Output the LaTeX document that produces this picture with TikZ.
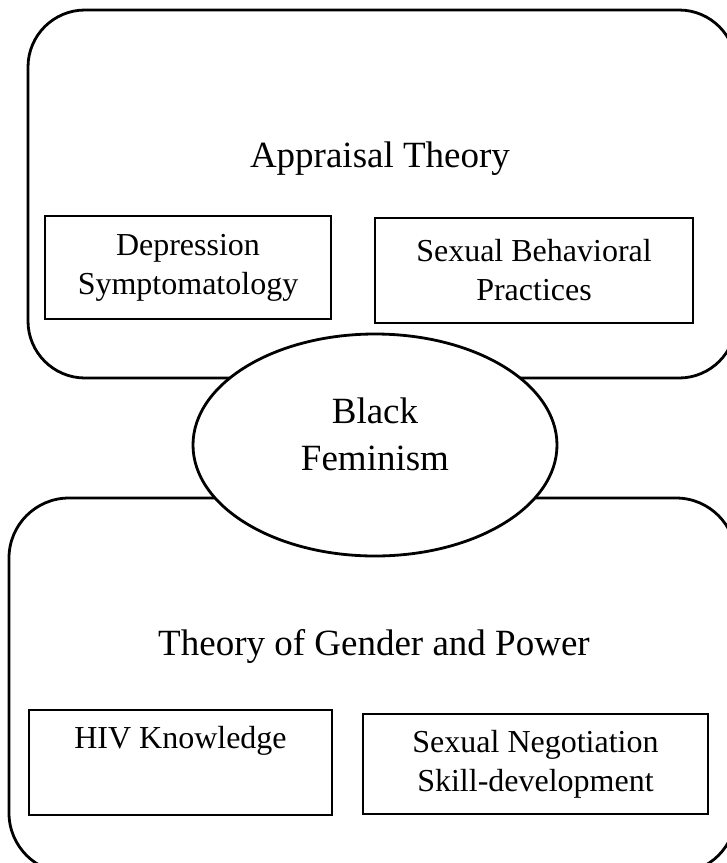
\documentclass[tikz,border=0pt]{standalone}
\usepackage{fontspec}
\setmainfont{Liberation Serif}
\usetikzlibrary{shapes.geometric}

\tikzset{
  frame/.style={draw, line width=1.4pt},
  itembox/.style={draw, line width=1.4pt, align=center, inner sep=0pt,
    font=\fontsize{16}{19.5}\selectfont},
  heading/.style={align=center, inner sep=0pt, anchor=base,
    font=\fontsize{18.5}{23.5}\selectfont},
  oval/.style={draw, ellipse, fill=white, line width=1.4pt, inner sep=0pt,
    minimum width=182pt, minimum height=111pt, align=center, text depth=11pt,
    font=\fontsize{18.5}{23.5}\selectfont}
}

\begin{document}
\begin{tikzpicture}[x=0.5pt,y=-0.5pt]
\useasboundingbox (0,0) rectangle (727,863);
% outer frames
\draw[frame, rounded corners=28.5pt] (28,10) rectangle (736,378);
\draw[frame, rounded corners=30pt] (9,498) rectangle (736,873);
% upper part
\node[heading] (appraisal) at (380,167) {Appraisal Theory};
\node[itembox, minimum width=143pt, minimum height=51.5pt] (depression) at (188,267.5) {Depression\\Symptomatology};
\node[itembox, minimum width=159pt, minimum height=52.5pt] (behavior) at (534,270.5) {Sexual Behavioral\\Practices};
% lower part
\node[heading] (gender) at (374,655) {Theory of Gender and Power};
\node[itembox, minimum width=151.5pt, minimum height=52.5pt] (hiv) at (180.5,762.5) {HIV Knowledge\\\strut};
\node[itembox, minimum width=172.5pt, minimum height=50pt] (negotiation) at (535.5,764) {Sexual Negotiation\\Skill-development};
% centre
\node[oval] (feminism) at (375,445) {Black\\Feminism};
\end{tikzpicture}
\end{document}
